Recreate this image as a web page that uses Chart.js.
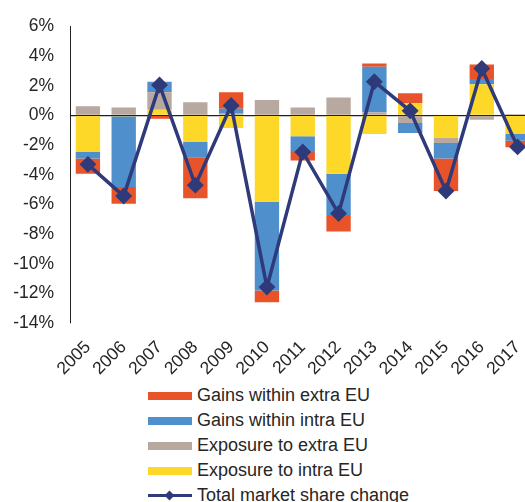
<!DOCTYPE html>
<html>
<head>
<meta charset="utf-8">
<script src="https://cdn.jsdelivr.net/npm/chart.js@4/dist/chart.umd.min.js"></script>
<style>
  html, body { margin:0; padding:0; overflow:hidden; background:#fff; width:525px; height:502px; }
  #wrap { position:relative; width:545px; height:383px; }
  .legend { position:absolute; left:148px; top:383px; font-family:'Liberation Sans', Arial, sans-serif; font-size:18px; color:#262626; }
  .lg-row { height:25px; display:flex; align-items:center; white-space:nowrap; }
  .sw { width:44px; height:8px; margin-right:5px; position:relative; }
  .sw.line:before { content:''; position:absolute; left:0; right:0; top:2.5px; height:3px; background:#2f3a7a; }
  .sw.line:after { content:''; position:absolute; left:18px; top:0; width:7px; height:7px; background:#2f3a7a; transform:rotate(45deg); }
</style>
</head>
<body>
<div id="wrap"><canvas id="chart" width="545" height="383"></canvas></div>
<div class="legend" id="legend"></div>
<script>
// values (% points)
const years = ['2005','2006','2007','2008','2009','2010','2011','2012','2013','2014','2015','2016','2017'];
const exposureIntra = [-2.46, -0.05, 0.38, -1.79, -0.85, -5.82, -1.41, -3.94, -1.25, 0.83, -1.48, 2.10, -1.25];
const exposureExtra = [0.62, 0.54, 1.18, 0.89, 0.16, 1.05, 0.54, 1.21, 0.22, -0.51, -0.38, -0.29, 0.09];
const gainsIntra    = [-0.45, -4.78, 0.72, -1.03, 0.29, -5.99, -1.05, -2.77, 3.07, -0.68, -1.05, 0.36, -0.45];
const gainsExtra    = [-1.03, -1.12, -0.22, -2.77, 1.11, -0.79, -0.58, -1.12, 0.22, 0.67, -2.19, 0.98, -0.45];
const totalChange   = [-3.30, -5.44, 2.06, -4.70, 0.67, -11.58, -2.46, -6.62, 2.28, 0.31, -5.10, 3.17, -2.12];

const C = { red:'#e8532a', blue:'#4f8fcc', grey:'#b7a9a0', yellow:'#fdd828', navy:'#2f3a7a' };
const FONT = "'Liberation Sans', Arial, sans-serif";

const bar = (label, data, color) => ({ type:'bar', label, data, backgroundColor:color, stack:'s', order:1,
  categoryPercentage:1, barPercentage:0.68 });

new Chart(document.getElementById('chart'), {
  data:{ labels:years, datasets:[
    bar('Exposure to intra EU', exposureIntra, C.yellow),
    bar('Exposure to extra EU', exposureExtra, C.grey),
    bar('Gains within intra EU', gainsIntra, C.blue),
    bar('Gains within extra EU', gainsExtra, C.red),
    { type:'line', label:'Total market share change', data:totalChange, stack:'total', order:0,
      borderColor:C.navy, backgroundColor:C.navy, borderWidth:3.5, pointStyle:'rectRot',
      pointRadius:6, pointHoverRadius:6, tension:0 }
  ]},
  options:{
    responsive:false, animation:false,
    layout:{ padding:{ top:24, right:0, bottom:0, left:0 } },
    plugins:{ legend:{ display:false }, tooltip:{ enabled:false } },
    scales:{
      x:{ stacked:true, grid:{ display:false }, border:{ display:false },
        ticks:{ color:'#262626', font:{ family:FONT, size:17.5 }, minRotation:45, maxRotation:45, padding:6 },
        afterFit: s => { s.height = 60; } },
      y:{ stacked:true, min:-14, max:6,
        border:{ display:true, color:'#222', width:1 },
        grid:{ drawTicks:false, color: ctx => ctx.tick && ctx.tick.value === 0 ? '#222' : 'rgba(0,0,0,0)', lineWidth:1.3 },
        ticks:{ stepSize:2, padding:16, color:'#262626', font:{ family:FONT, size:17.5 }, callback: v => v + '%' },
        afterFit: s => { s.width = 70; } }
    }
  }
});

// legend in the same order as the reference
const legendItems = [
  ['Gains within extra EU', C.red], ['Gains within intra EU', C.blue],
  ['Exposure to extra EU', C.grey], ['Exposure to intra EU', C.yellow]
];
document.getElementById('legend').innerHTML =
  legendItems.map(([t,c]) => `<div class="lg-row"><div class="sw" style="background:${c}"></div>${t}</div>`).join('') +
  `<div class="lg-row"><div class="sw line"></div>Total market share change</div>`;
</script>
</body>
</html>
